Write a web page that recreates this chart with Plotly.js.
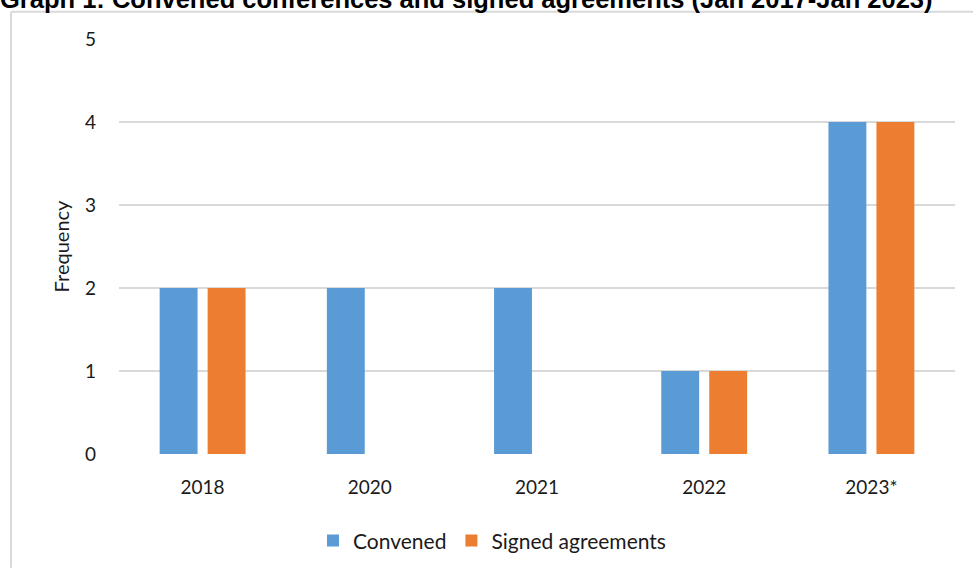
<!DOCTYPE html>
<html>
<head>
<meta charset="utf-8">
<script src="https://cdn.plot.ly/plotly-3.0.1.min.js"></script>
<style>
html,body{margin:0;padding:0;background:#fff;overflow:hidden;}
#chart{width:973px;height:574px;}
</style>
</head>
<body>
<div id="chart"></div>
<script>
const categories = ["2018", "2020", "2021", "2022", "2023*"];
const convened = [2, 2, 2, 1, 4];
const signedAgreements = [2, 0, 0, 1, 4];
const yTicks = [0, 1, 2, 3, 4, 5];
const titleText = "Graph 1: Convened conferences and signed agreements (Jan 2017-Jan 2023)";

const W = 973, H = 574;
const M = {l: 119, r: 18, t: 39, b: 115};
const pw = W - M.l - M.r, ph = H - M.t - M.b;
const px = v => (v - M.l) / pw;
const py = v => (H - M.b - v) / ph;

const font = "Lato, 'Open Sans', sans-serif";
const txt = "#1a1a1a";

const traces = [
  {type: "bar", name: "Convened", x: categories, y: convened,
   marker: {color: "#5B9BD5"}, hoverinfo: "x+y"},
  {type: "bar", name: "Signed agreements", x: categories, y: signedAgreements,
   marker: {color: "#ED7D31"}, hoverinfo: "x+y"}
];

const layout = {
  width: W, height: H,
  margin: M,
  paper_bgcolor: "#fff", plot_bgcolor: "#fff",
  barmode: "group", bargap: 0.426, bargroupgap: 0.21,
  font: {family: font, color: txt, size: 19},
  xaxis: {
    type: "category", showgrid: false, zeroline: false, showline: false,
    ticks: "", ticklabelstandoff: 20, tickfont: {size: 19, color: txt}
  },
  yaxis: {
    range: [0, 5], tickvals: yTicks, ticktext: yTicks.map(String),
    showgrid: true, gridcolor: "#D9D9D9", gridwidth: 1.5,
    zeroline: false, showline: false, ticks: "",
    ticklabelstandoff: 22, tickfont: {size: 19, color: txt},
    title: {text: "Frequency", font: {size: 20, color: txt}, standoff: 9}
  },
  showlegend: true,
  legend: {
    orientation: "h", x: px(492), xanchor: "center", y: py(547), yanchor: "middle",
    font: {size: 21, color: txt}, itemwidth: 30, tracegroupgap: 0,
    bgcolor: "rgba(0,0,0,0)"
  },
  annotations: [{
    text: "<b>" + titleText + "</b>", showarrow: false,
    xref: "paper", yref: "paper", x: px(-2), xanchor: "left",
    y: py(15), yanchor: "bottom",
    font: {family: "'Liberation Sans', Arial, sans-serif", size: 25.5, color: "#000"}
  }],
  shapes: [
    {type: "line", xref: "paper", yref: "paper", x0: px(11), x1: px(973), y0: py(11.5), y1: py(11.5),
     line: {color: "#D9D9D9", width: 2}},
    {type: "line", xref: "paper", yref: "paper", x0: px(11), x1: px(11), y0: py(11.5), y1: py(574),
     line: {color: "#D9D9D9", width: 2}}
  ]
};

Plotly.newPlot("chart", traces, layout, {displayModeBar: false, staticPlot: true});
</script>
</body>
</html>
